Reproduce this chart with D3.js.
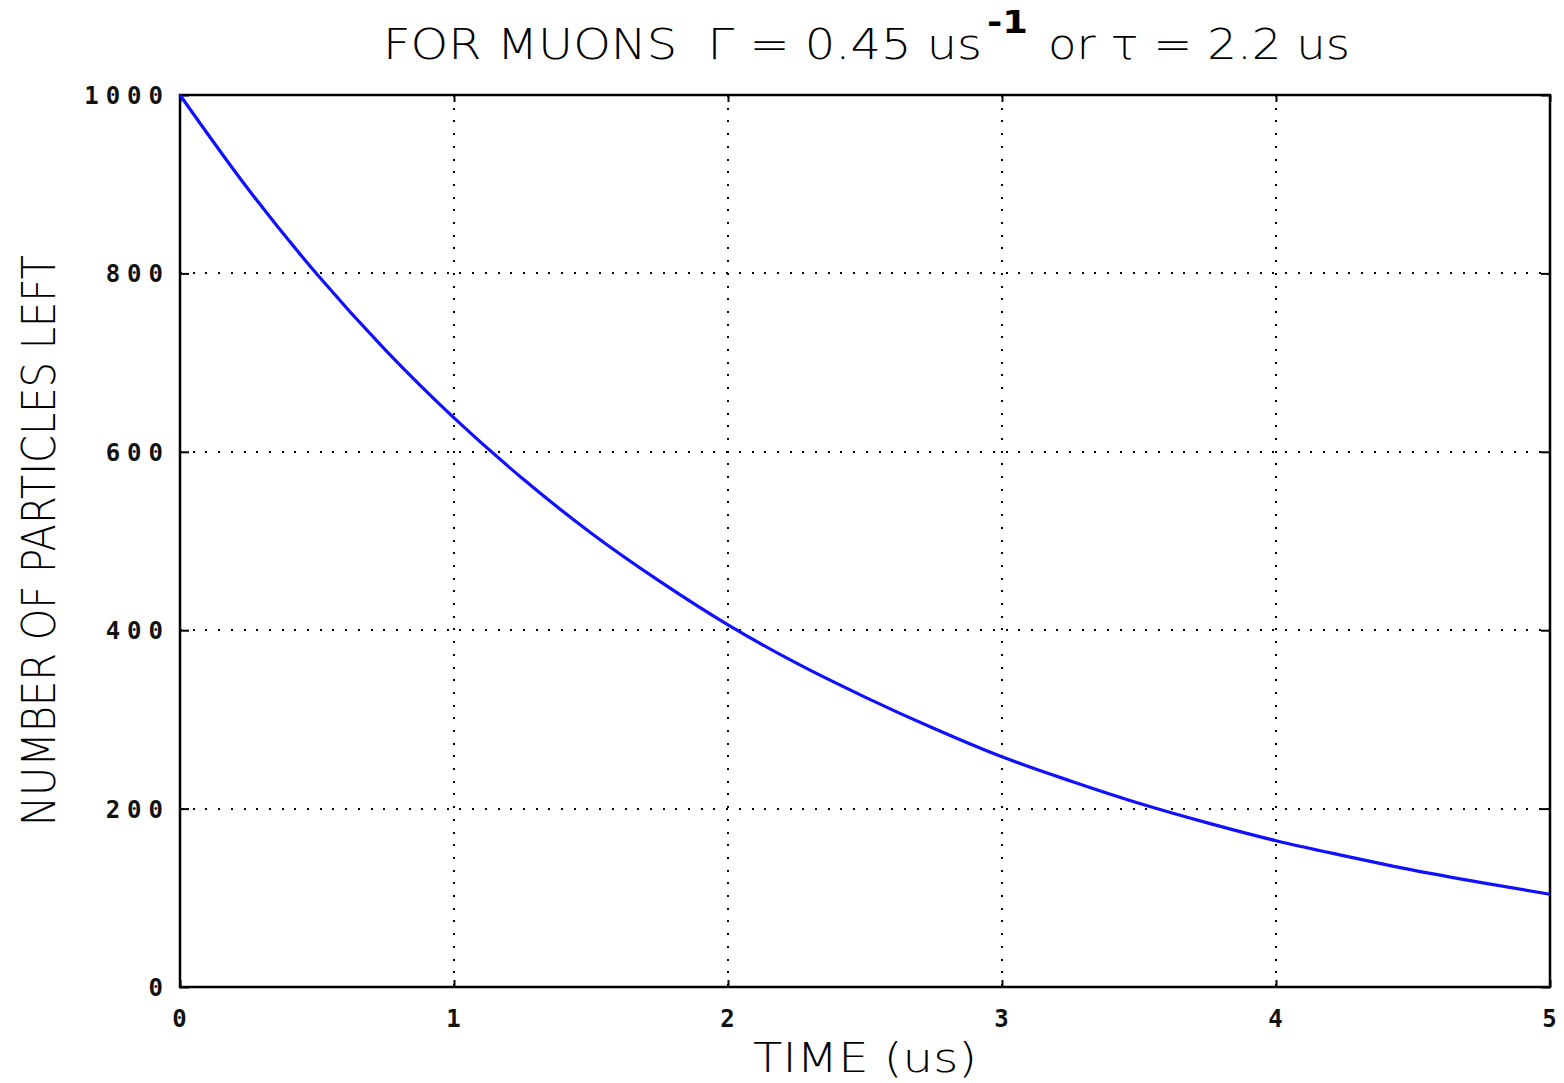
<!DOCTYPE html>
<html>
<head>
<meta charset="utf-8">
<script src="https://cdn.jsdelivr.net/npm/d3@7"></script>
<style>
  html, body { margin: 0; padding: 0; background: #fff; }
  svg { display: block; }
  text { white-space: pre; }
</style>
</head>
<body>
<svg id="chart" width="1564" height="1083"></svg>
<script>
// ---- data ----
const timeValues = [0, 0.25, 0.5, 0.75, 1, 1.25, 1.5, 1.75, 2, 2.25, 2.5, 2.75, 3, 3.25, 3.5, 3.75, 4, 4.25, 4.5, 4.75, 5];
const particlesLeft = [1000, 894, 799, 714, 638, 570, 509, 455, 406, 363, 325, 290, 258, 231, 206, 184, 164, 147, 131, 117, 104];
const xTicks = [0, 1, 2, 3, 4, 5];
const yTicks = [0, 200, 400, 600, 800, 1000];
const titleMain = "FOR MUONS  \u0393 = 0.45 us";
const titleSup = "-1";
const titleTail = "or \u03C4 = 2.2 us";
const xLabel = "TIME (us)";
const yLabel = "NUMBER OF PARTICLES LEFT";

// ---- layout ----
const L = 180, R = 1550, T = 95, B = 987;
const svg = d3.select("#chart");
const x = d3.scaleLinear().domain([0, 5]).range([L, R]);
const y = d3.scaleLinear().domain([0, 1000]).range([B, T]);

// grid
const grid = svg.append("g").attr("stroke", "#000").attr("stroke-width", 2).attr("shape-rendering", "crispEdges");
grid.selectAll("line.vx").data(xTicks.filter(d => d > 0 && d < 5)).join("line")
  .attr("class", "vx")
  .attr("x1", d => x(d)).attr("x2", d => x(d)).attr("y1", T).attr("y2", B)
  .attr("stroke-dasharray", "2,10.7");
grid.selectAll("line.hy").data(yTicks.filter(d => d > 0 && d < 1000)).join("line")
  .attr("class", "hy")
  .attr("x1", L).attr("x2", R).attr("y1", d => y(d)).attr("y2", d => y(d))
  .attr("stroke-dasharray", "2,10.7");

// axes (inward ticks, labels drawn separately)
const tickFont = "'DejaVu Sans Mono', monospace";
function styleTicks(g) {
  g.select(".domain").remove();
  g.selectAll("line").attr("stroke", "#000").attr("stroke-width", 2);
}
svg.append("g").attr("transform", `translate(0,${B})`)
  .call(d3.axisBottom(x).tickValues(xTicks).tickSize(-7).tickFormat("")).call(styleTicks);
svg.append("g").attr("transform", `translate(${L},0)`)
  .call(d3.axisLeft(y).tickValues(yTicks).tickSize(-9).tickFormat("")).call(styleTicks);
svg.append("g").attr("transform", `translate(0,${T})`)
  .call(d3.axisTop(x).tickValues(xTicks).tickSize(-7).tickFormat("")).call(styleTicks);
svg.append("g").attr("transform", `translate(${R},0)`)
  .call(d3.axisRight(y).tickValues(yTicks).tickSize(-9).tickFormat("")).call(styleTicks);

// frame
svg.append("rect").attr("x", L).attr("y", T).attr("width", R - L).attr("height", B - T)
  .attr("fill", "none").attr("stroke", "#000").attr("stroke-width", 2.5);

// tick labels
svg.append("g").selectAll("text").data(xTicks).join("text")
  .attr("x", d => x(d) + 3).attr("y", 1027)
  .attr("text-anchor", "middle")
  .attr("font-family", tickFont).attr("font-weight", 600).attr("font-size", 24)
  .attr("letter-spacing", 7)
  .attr("fill", "#111")
  .text(d => d);
svg.append("g").selectAll("text").data(yTicks).join("text")
  .attr("x", 170).attr("y", d => y(d) + 9)
  .attr("text-anchor", "end")
  .attr("font-family", tickFont).attr("font-weight", 600).attr("font-size", 24)
  .attr("letter-spacing", 7)
  .attr("fill", "#111")
  .text(d => d);

// curve
const pts = timeValues.map((t, i) => [t, particlesLeft[i]]);
svg.append("path").datum(pts)
  .attr("fill", "none").attr("stroke", "#1010ff").attr("stroke-width", 3.2)
  .attr("d", d3.line().x(d => x(d[0])).y(d => y(d[1])).curve(d3.curveMonotoneX));

// titles
const labelFont = "'DejaVu Sans', sans-serif";
const tg = svg.append("g").attr("font-family", labelFont).attr("font-weight", 200).attr("fill", "#000");
tg.append("text").attr("x", 383).attr("y", 59).attr("font-size", 43)
  .attr("textLength", 599).attr("lengthAdjust", "spacingAndGlyphs").text(titleMain);
tg.append("text").attr("x", 987).attr("y", 33).attr("font-size", 32).attr("font-weight", "bold")
  .attr("textLength", 41).attr("lengthAdjust", "spacingAndGlyphs").text(titleSup);
tg.append("text").attr("x", 1048).attr("y", 59).attr("font-size", 43)
  .attr("textLength", 302).attr("lengthAdjust", "spacingAndGlyphs").text(titleTail);

tg.append("text").attr("x", 753).attr("y", 1072).attr("font-size", 40)
  .attr("textLength", 224).attr("lengthAdjust", "spacingAndGlyphs").text(xLabel);

tg.append("text").attr("transform", "translate(55,826) rotate(-90)").attr("font-size", 47)
  .attr("textLength", 571).attr("lengthAdjust", "spacingAndGlyphs").text(yLabel);
</script>
</body>
</html>
